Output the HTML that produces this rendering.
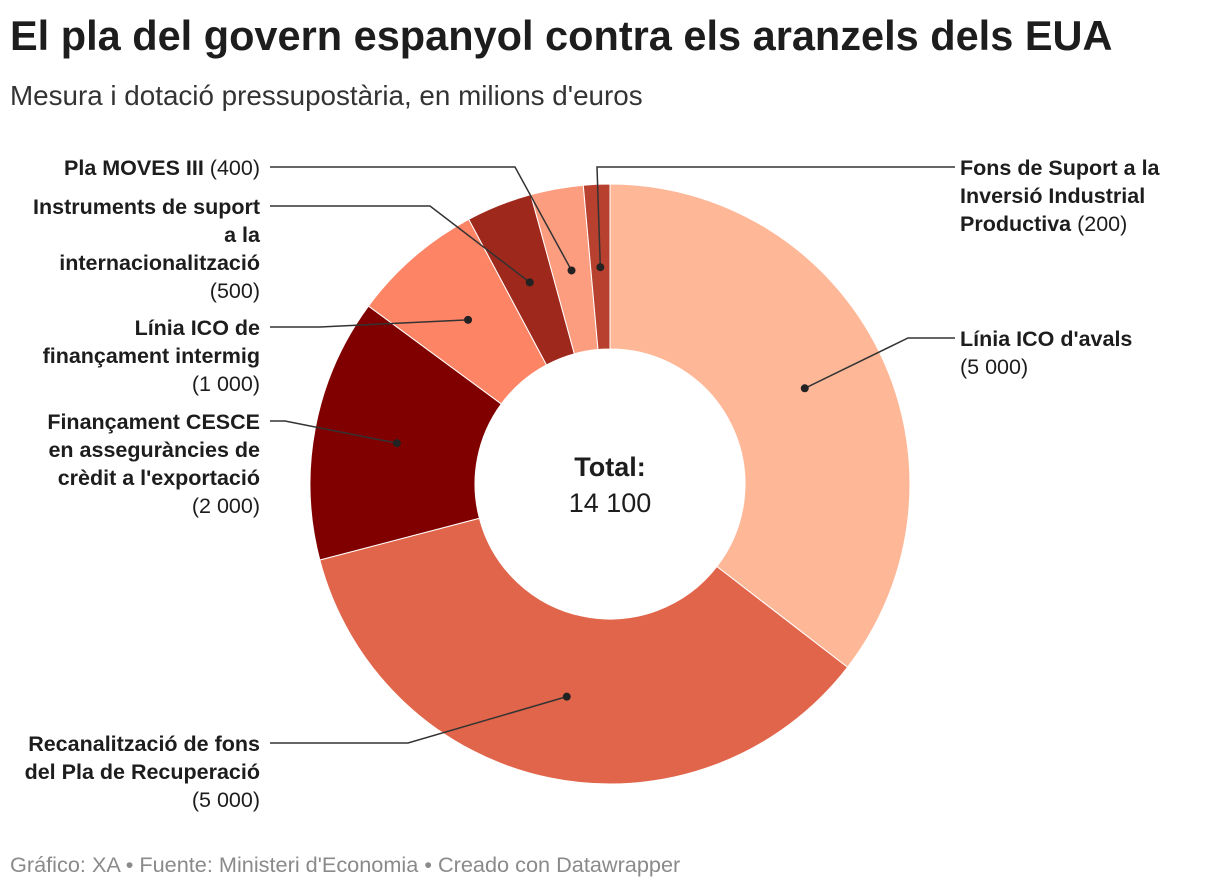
<!DOCTYPE html>
<html><head><meta charset="utf-8"><style>
body{margin:0;width:1220px;height:890px;background:#fff;font-family:"Liberation Sans",sans-serif;overflow:hidden}
#title{position:absolute;left:10px;top:12px;font-size:41.5px;font-weight:bold;color:#1d1d1d;margin:0;letter-spacing:0px;white-space:nowrap}
#sub{position:absolute;left:10px;top:80px;font-size:27.8px;color:#333;white-space:nowrap}
#foot{position:absolute;left:10px;top:852px;font-size:21.7px;color:#8a8a8a;white-space:nowrap}
svg{position:absolute;left:0;top:0}
.lb{font-size:21.5px;fill:#1d1d1d}
.b{font-weight:bold}
</style></head><body>
<h1 id="title">El pla del govern espanyol contra els aranzels dels EUA</h1>
<div id="sub">Mesura i dotació pressupostària, en milions d'euros</div>
<svg id="chart" width="1220" height="890"></svg>
<div id="foot">Gráfico: XA • Fuente: Ministeri d'Economia • Creado con Datawrapper</div>
<script>
const categories=["Línia ICO d'avals","Recanalització de fons del Pla de Recuperació","Finançament CESCE en assegurances de crèdit a l'exportació","Línia ICO de finançament intermig","Instruments de suport a la internacionalització","Pla MOVES III","Fons de Suport a la Inversió Industrial Productiva"];
const values=[5000,5000,2000,1000,500,400,200];
const valueLabels=["(5 000)","(5 000)","(2 000)","(1 000)","(500)","(400)","(200)"];
const colors=["#feb898","#e1654a","#800000","#fe8466","#9d281b","#fd9d80","#b8402f"];
const labelLines=[["Línia ICO d'avals"],["Recanalització de fons","del Pla de Recuperació"],["Finançament CESCE","en asseguràncies de","crèdit a l'exportació"],["Línia ICO de","finançament intermig"],["Instruments de suport","a la","internacionalització"],["Pla MOVES III"],["Fons de Suport a la","Inversió Industrial","Productiva"]];
const layout=[[908,338,955,338,'r'],[408,743,270,743,'l'],[285,421,270,421,'l'],[320,327,270,327,'l'],[430,206,270,206,'l'],[515,167,270,167,'l'],[597,167,955,167,'r']];
const NS="http://www.w3.org/2000/svg",svg=document.getElementById('chart');
const cx=610,cy=484,R=300,r0=135,rd=217;
const total=values.reduce((a,b)=>a+b,0);
function pt(a,r){return [cx+r*Math.sin(a),cy-r*Math.cos(a)];}
let acc=0;
values.forEach((v,i)=>{
 const a0=acc/total*2*Math.PI;acc+=v;const a1=acc/total*2*Math.PI;
 const lg=(a1-a0)>Math.PI?1:0;
 const p1=pt(a0,R),p2=pt(a1,R),p3=pt(a1,r0),p4=pt(a0,r0);
 const p=document.createElementNS(NS,'path');
 p.setAttribute('d',`M${p1}A${R},${R} 0 ${lg} 1 ${p2}L${p3}A${r0},${r0} 0 ${lg} 0 ${p4}Z`);
 p.setAttribute('fill',colors[i]);p.setAttribute('stroke','#fff');p.setAttribute('stroke-width','1');
 
 
 svg.appendChild(p);
 const am=(a0+a1)/2,d=pt(am,rd),L=layout[i];
 const pl=document.createElementNS(NS,'polyline');
 pl.setAttribute('points',`${d} ${L[0]},${L[1]} ${L[2]},${L[3]}`);
 pl.setAttribute('fill','none');pl.setAttribute('stroke','#333');pl.setAttribute('stroke-width','1.5');
 
 
 svg.appendChild(pl);
 const c=document.createElementNS(NS,'circle');
 c.setAttribute('cx',d[0]);c.setAttribute('cy',d[1]);c.setAttribute('r',4);c.setAttribute('fill','#222');
 
 
 svg.appendChild(c);
 const t=document.createElementNS(NS,'text');
 t.setAttribute('class','lb');
 const right=L[4]==='r';
 t.setAttribute('text-anchor',right?'start':'end');
 
 
 const x=right?960:260;
 const lines=labelLines[i];
 const inline=(i===5||i===6);
 lines.forEach((s,k)=>{
  const ts=document.createElementNS(NS,'tspan');ts.setAttribute('x',x);ts.setAttribute('y',L[3]+8+k*28);
  ts.setAttribute('class','b');ts.textContent=s;t.appendChild(ts);
 });
 if(inline){const v2=document.createElementNS(NS,'tspan');v2.textContent=' '+valueLabels[i];t.appendChild(v2);}
 else{const ts=document.createElementNS(NS,'tspan');ts.setAttribute('x',x);ts.setAttribute('y',L[3]+8+lines.length*28);ts.textContent=valueLabels[i];t.appendChild(ts);}
 svg.appendChild(t);
});
const t1=document.createElementNS(NS,'text');t1.setAttribute('x',cx);t1.setAttribute('y',476);t1.setAttribute('text-anchor','middle');
t1.setAttribute('style','font-size:27px;font-weight:bold;fill:#1d1d1d');t1.textContent='Total:';


svg.appendChild(t1);
const t2=document.createElementNS(NS,'text');t2.setAttribute('x',cx);t2.setAttribute('y',512);t2.setAttribute('text-anchor','middle');
t2.setAttribute('style','font-size:27px;fill:#1d1d1d');t2.textContent=total.toString().replace(/\B(?=(\d{3})+(?!\d))/g,' ');


svg.appendChild(t2);
</script>
</body></html>
